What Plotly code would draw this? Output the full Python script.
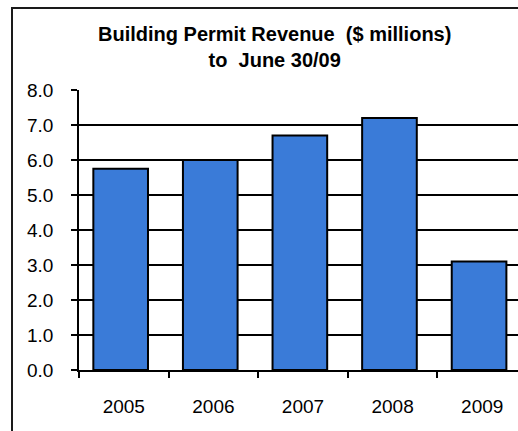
import plotly.graph_objects as go

years = ["2005", "2006", "2007", "2008", "2009"]
revenue = [5.75, 6.0, 6.7, 7.2, 3.1]
y_ticks = [0, 1, 2, 3, 4, 5, 6, 7, 8]
y_tick_labels = ["0.0", "1.0", "2.0", "3.0", "4.0", "5.0", "6.0", "7.0", "8.0"]
title_lines = ["Building Permit Revenue\u00a0\u00a0($ millions)", "to\u00a0\u00a0June 30/09"]

W, H = 518, 431
L, R, T, B = 79, 0, 90, 61
pw = W - L - R
ph = H - T - B
FONT = "Liberation Sans, Arial, sans-serif"

fig = go.Figure()
fig.add_trace(go.Bar(
    x=years, y=revenue,
    width=0.61, offset=-0.34,
    marker=dict(color="#3a7bd8", line=dict(color="#000000", width=2)),
    hoverinfo="x+y",
))

def px_x(p):
    return (p - L) / pw

def px_y(p):
    return (H - B - p) / ph

fig.update_layout(
    width=W, height=H,
    margin=dict(l=L, r=R, t=T, b=B, autoexpand=False),
    paper_bgcolor="white", plot_bgcolor="white",
    showlegend=False,
    font=dict(family=FONT, size=19, color="#000000"),
    xaxis=dict(
        type="category",
        range=[-0.5, -0.5 + pw / 89.6],
        tickson="boundaries",
        ticks="outside", ticklen=6, tickwidth=1.5, tickcolor="#000",
        showline=True, linecolor="#000", linewidth=1.5,
        showgrid=False,
        ticklabelstandoff=18,
        tickfont=dict(size=19, family=FONT),
        fixedrange=True,
    ),
    yaxis=dict(
        range=[0, 8],
        tickvals=y_ticks, ticktext=y_tick_labels,
        ticks="outside", ticklen=6, tickwidth=1.5, tickcolor="#000",
        showline=True, linecolor="#000", linewidth=1.5,
        showgrid=True, gridcolor="#000", gridwidth=1.5,
        zeroline=False,
        ticklabelstandoff=14,
        tickfont=dict(size=19, family=FONT),
        fixedrange=True,
    ),
    shapes=[dict(
        type="rect", xref="paper", yref="paper",
        x0=px_x(12), x1=px_x(640), y0=px_y(520), y1=px_y(8),
        line=dict(color="#1a1a1a", width=2), fillcolor="rgba(0,0,0,0)",
        layer="above",
    )],
    annotations=[dict(
        xref="paper", yref="paper",
        x=px_x(274.5), y=px_y(47),
        xanchor="center", yanchor="middle",
        text="<b>" + title_lines[0] + "</b><br><b>" + title_lines[1] + "</b>",
        showarrow=False,
        font=dict(family=FONT, size=20, color="#000"),
    )],
)

fig.write_html("out.html")
